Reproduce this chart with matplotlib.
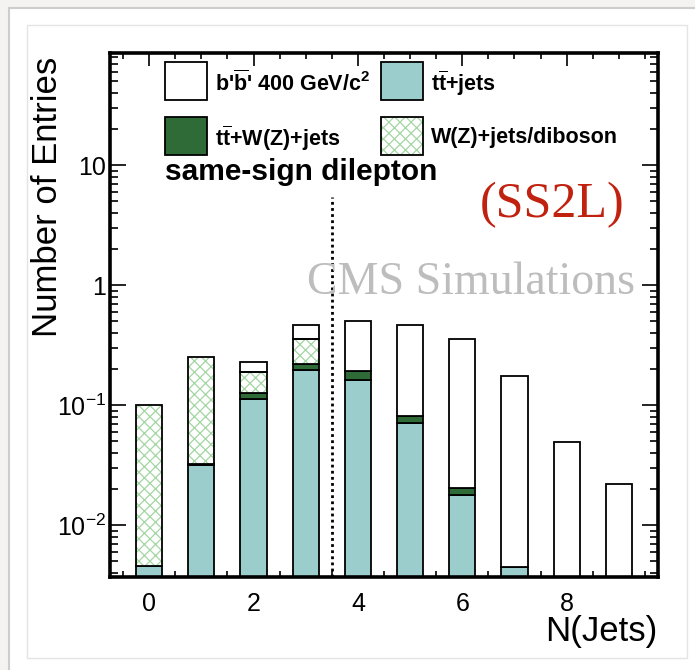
import matplotlib
matplotlib.use('Agg')
import matplotlib.pyplot as plt
import numpy as np
from matplotlib.patches import Rectangle
from matplotlib.ticker import FixedLocator, MultipleLocator, LogLocator, NullFormatter

plt.rcParams['font.family'] = ['Liberation Sans', 'DejaVu Sans']
plt.rcParams['mathtext.fontset'] = 'custom'
plt.rcParams['mathtext.rm'] = 'Liberation Sans'
plt.rcParams['mathtext.bf'] = 'Liberation Sans:bold'
plt.rcParams['mathtext.it'] = 'Liberation Sans:italic'
plt.rcParams['mathtext.default'] = 'regular'
plt.rcParams['hatch.linewidth'] = 0.9

# ---------------- data ----------------
n_jets = np.arange(10)
ttbar_jets = np.array([0.0046, 0.032, 0.112, 0.196, 0.163, 0.071, 0.0179, 0.0045, 0.0, 0.0])
ttbar_wz = np.array([0.0, 0.0006, 0.014, 0.024, 0.030, 0.010, 0.0026, 0.0, 0.0, 0.0])
wz_diboson = np.array([0.0954, 0.217, 0.062, 0.135, 0.0, 0.0, 0.0, 0.0, 0.0, 0.0])
signal_bb = np.array([0.0, 0.0, 0.040, 0.109, 0.307, 0.383, 0.335, 0.170, 0.0493, 0.0222])
x_ticks = [0, 2, 4, 6, 8]
y_ticks = [0.01, 0.1, 1, 10]
y_tick_labels = ['10$^{-2}$', '10$^{-1}$', '1', '10']
cut_position = 3.5
cut_top = 5.4

labels = ["b'$\\mathbf{\\overline{b}}$' 400 GeV/c$^{\\mathbf{2}}$",
          "t$\\mathbf{\\overline{t}}$+jets",
          "t$\\mathbf{\\overline{t}}$+W(Z)+jets",
          "W(Z)+jets/diboson"]

C_TT = '#9bcdcd'
C_TTW = '#2e6b36'
C_HATCH = '#a3d6a3'

W, H = 695, 670
def fx(p):
    return p / W
def fy(p):
    return 1 - p / H

fig = plt.figure(figsize=(W / 100, H / 100), dpi=100)
fig.patch.set_facecolor('#f4f3f1')
fig.add_artist(Rectangle((fx(9), fy(700)), (720 - 9) / W, (700 - 8) / H,
                         transform=fig.transFigure, facecolor='white',
                         edgecolor='#cdcdcd', lw=1.5, zorder=-10))
fig.add_artist(Rectangle((fx(27), fy(658)), (687 - 27) / W, (658 - 25) / H,
                         transform=fig.transFigure, facecolor='none',
                         edgecolor='#e4e4e4', lw=1.0, zorder=-9))

ax = fig.add_axes([fx(110), fy(577), (658 - 110) / W, (577 - 53) / H])
ax.set_yscale('log')
ymin, ymax = 0.0037, 86
ax.set_xlim(-0.75, 9.75)
ax.set_ylim(ymin, ymax)

base = np.full(10, 1e-5)
lw = 1.3

def stack(vals, bottom, **kw):
    m = vals > 0
    ax.bar(n_jets[m], vals[m], width=0.5, bottom=bottom[m], align='center', **kw)

stack(ttbar_jets, base, color=C_TT, edgecolor='black', linewidth=lw, zorder=2)
b1 = np.where(ttbar_jets > 0, ttbar_jets, base)
stack(ttbar_wz, b1, color=C_TTW, edgecolor='black', linewidth=lw, zorder=2)
b2 = b1 + ttbar_wz
stack(wz_diboson, b2, color='white', edgecolor=C_HATCH, hatch='xxx', linewidth=0, zorder=2)
stack(wz_diboson, b2, fill=False, edgecolor='black', linewidth=lw, zorder=2.1)
b3 = b2 + wz_diboson
stack(signal_bb, b3, color='white', edgecolor='black', linewidth=lw, zorder=2)

ax.plot([cut_position, cut_position], [ymin, cut_top], color='black', lw=2.0,
        ls=(0, (1, 1.2)), zorder=3)

for s in ax.spines.values():
    s.set_linewidth(2.6)

ax.xaxis.set_major_locator(FixedLocator(x_ticks))
ax.xaxis.set_minor_locator(MultipleLocator(0.5))
ax.yaxis.set_major_locator(FixedLocator(y_ticks))
ax.yaxis.set_minor_locator(LogLocator(base=10, subs=np.arange(2, 10)))
ax.yaxis.set_minor_formatter(NullFormatter())
ax.set_yticklabels(y_tick_labels)
ax.tick_params(which='both', direction='in', top=True, right=True, width=1.2)
ax.tick_params(axis='x', which='major', length=9.5, labelsize=18, pad=11)
ax.tick_params(axis='x', which='minor', length=4.5)
ax.tick_params(axis='y', which='major', length=11.5, labelsize=18, pad=3)
ax.tick_params(axis='y', which='minor', length=5.5)

fig.text(fx(48), fy(197), 'Number of Entries', rotation=90, ha='center', va='center', fontsize=25)
fig.text(fx(657), fy(632), 'N(Jets)', ha='right', va='center', fontsize=25)

# legend (manual, 2x2)
boxes = [(165, 62), (381, 62), (165, 117), (381, 117)]
styles = [dict(facecolor='white'), dict(facecolor=C_TT), dict(facecolor=C_TTW), None]
for (bx, by), st, lab in zip(boxes, styles, labels):
    wpx, hpx = 42, 38
    if st is None:
        fig.add_artist(Rectangle((fx(bx), fy(by + hpx)), wpx / W, hpx / H, transform=fig.transFigure,
                                 facecolor='white', edgecolor=C_HATCH, hatch='xxx', lw=0))
        fig.add_artist(Rectangle((fx(bx), fy(by + hpx)), wpx / W, hpx / H, transform=fig.transFigure,
                                 fill=False, edgecolor='black', lw=1.3))
    else:
        fig.add_artist(Rectangle((fx(bx), fy(by + hpx)), wpx / W, hpx / H, transform=fig.transFigure,
                                 edgecolor='black', lw=1.3, **st))
    fig.text(fx(bx + 50), fy(by + 21), lab, ha='left', va='center', fontsize=15.5, fontweight='bold')

fig.text(fx(165), fy(172), 'same-sign dilepton', ha='left', va='center', fontsize=21.5, fontweight='bold')
fig.text(fx(552), fy(205), '(SS2L)', ha='center', va='center', fontsize=36,
         family='Liberation Serif', color='#c0220f')
fig.text(fx(471), fy(283), 'CMS Simulations', ha='center', va='center', fontsize=33,
         family='Liberation Serif', color='#bdbdbd', zorder=5)

fig.savefig('out.png', dpi=100, facecolor=fig.get_facecolor())
